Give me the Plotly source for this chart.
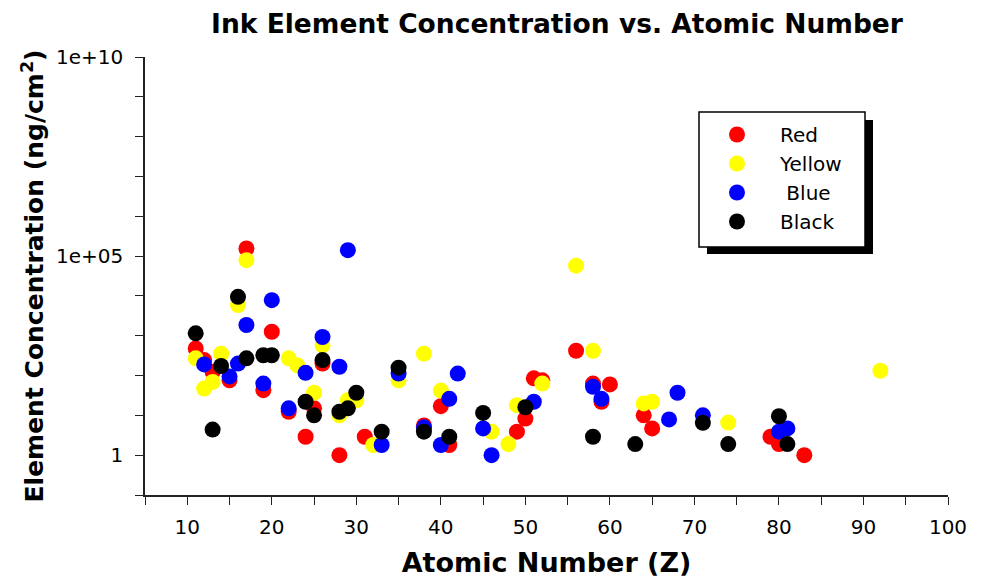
import plotly.graph_objects as go

# ---------------- data ----------------
red_z = [11, 12, 13, 15, 17, 19, 20, 22, 24, 25, 26, 28, 31, 38, 40, 41, 49, 50, 51, 52, 56, 58, 59, 60, 64, 65, 79, 80, 83]
red_c = [480, 245, 123, 76, 155000, 43, 1260, 12.3, 2.9, 15, 200, 1.0, 2.9, 5.6, 17, 1.8, 3.9, 8.3, 85, 76, 420, 63, 22, 60, 10, 4.7, 2.9, 1.9, 1.0]

yellow_z = [11, 12, 13, 14, 16, 17, 22, 23, 25, 26, 28, 29, 30, 32, 35, 38, 40, 46, 48, 49, 52, 56, 58, 64, 65, 74, 92]
yellow_c = [270, 47, 69, 355, 5900, 79000, 270, 182, 37, 575, 10, 24, 24, 1.8, 76, 355, 42, 3.9, 1.9, 18, 63, 57500, 417, 20, 22, 6.6, 132]

blue_z = [12, 15, 16, 17, 19, 20, 22, 24, 26, 28, 29, 33, 35, 38, 40, 41, 42, 45, 46, 51, 58, 59, 67, 68, 71, 80, 81]
blue_c = [190, 95, 200, 1860, 63, 7800, 15, 117, 930, 166, 141000, 1.8, 112, 5.0, 1.8, 26, 112, 4.7, 1.0, 22, 52, 26, 7.9, 37, 10, 3.9, 4.7]

black_z = [11, 13, 14, 16, 17, 19, 20, 24, 25, 26, 28, 29, 30, 33, 35, 38, 41, 45, 50, 58, 63, 71, 74, 80, 81]
black_c = [1150, 4.4, 174, 9500, 270, 324, 324, 22, 10, 245, 12.3, 15, 37, 3.9, 158, 3.9, 2.9, 11.5, 16, 2.9, 1.9, 6.5, 1.9, 9.5, 1.9]

series_names = ["Red", "Yellow", "\u00a0Blue", "Black"]
series_colors = ["#ff0000", "#ffff00", "#0000ff", "#000000"]

x_tick_vals = [10, 20, 30, 40, 50, 60, 70, 80, 90, 100]
x_tick_text = ["10", "20", "30", "40", "50", "60", "70", "80", "90", "100"]
x_minor_vals = [5, 15, 25, 35, 45, 55, 65, 75, 85, 95]
y_tick_vals = [1, 1e5, 1e10]
y_tick_text = ["1", "1e+05", "1e+10"]
y_minor_vals = [0.1, 10, 100, 1e3, 1e4, 1e6, 1e7, 1e8, 1e9]

title_text = "Ink Element Concentration vs. Atomic Number"
x_title = "Atomic Number (Z)"
y_title = "Element Concentration (ng/cm<sup>2</sup>)"

# ---------------- layout geometry ----------------
# the page body adds an 8px margin, so the figure is sized to fit the window
OFF = 8
W, H = 985 - OFF, 582 - OFF
ML, MR, MT, MB = 137, 37, 49, 87
PW, PH = W - ML - MR, H - MT - MB


def px(xp):  # screen pixel -> paper x
    return (xp - OFF - ML) / PW


def py(yp):  # screen pixel -> paper y
    return (H - MB - (yp - OFF)) / PH


FONT = "DejaVu Sans"
AXC = "#222"

fig = go.Figure()
for z, c, name, col in zip([red_z, yellow_z, blue_z, black_z],
                           [red_c, yellow_c, blue_c, black_c],
                           series_names, series_colors):
    fig.add_trace(go.Scatter(
        x=z, y=c, mode="markers", name=name,
        marker=dict(size=16, color=col, line=dict(width=0)),
    ))

# legend box + drop shadow
fig.add_shape(type="rect", xref="paper", yref="paper",
              x0=px(707), x1=px(873), y0=py(254), y1=py(120),
              fillcolor="black", line=dict(width=0), layer="above")
fig.add_shape(type="rect", xref="paper", yref="paper",
              x0=px(699), x1=px(865), y0=py(247), y1=py(112),
              fillcolor="white", line=dict(color="black", width=1.5), layer="above")

fig.update_layout(
    width=W, height=H,
    margin=dict(l=ML, r=MR, t=MT, b=MB, autoexpand=False),
    paper_bgcolor="white", plot_bgcolor="white",
    font=dict(family=FONT, color="black"),
    title=dict(text="<b>" + title_text + "</b>", x=549 / W, xanchor="center",
               y=1 - 16 / H, yanchor="middle",
               font=dict(family=FONT, size=26.5, color="black")),
    showlegend=True,
    legend=dict(x=px(694), y=py(115), xanchor="left", yanchor="top",
                bgcolor="rgba(0,0,0,0)", borderwidth=0,
                itemwidth=76, font=dict(family=FONT, size=20, color="black"),
                tracegroupgap=0),
    xaxis=dict(
        range=[5, 100], showgrid=False, zeroline=False, automargin=False,
        showline=True, linecolor=AXC, linewidth=1.5,
        ticks="outside", ticklen=8, tickwidth=1.2, tickcolor=AXC,
        tickmode="array", tickvals=x_tick_vals, ticktext=x_tick_text,
        ticklabelstandoff=5,
        minor=dict(tickmode="array", tickvals=x_minor_vals, ticks="outside",
                   ticklen=8, tickwidth=1.2, tickcolor=AXC, showgrid=False),
        tickfont=dict(family=FONT, size=20, color="black"),
        title=dict(text="<b>" + x_title + "</b>", standoff=15,
                   font=dict(family=FONT, size=27, color="black")),
    ),
    yaxis=dict(
        type="log", range=[-1, 10], showgrid=False, zeroline=False, automargin=False,
        showline=True, linecolor=AXC, linewidth=1.5,
        ticks="outside", ticklen=8, tickwidth=1.2, tickcolor=AXC,
        tickmode="array", tickvals=y_tick_vals, ticktext=y_tick_text,
        ticklabelstandoff=8,
        minor=dict(tickmode="array", tickvals=y_minor_vals, ticks="outside",
                   ticklen=8, tickwidth=1.2, tickcolor=AXC, showgrid=False),
        tickfont=dict(family=FONT, size=20, color="black"),
        title=dict(text="<b>" + y_title + "</b>", standoff=5,
                   font=dict(family=FONT, size=25, color="black")),
    ),
)

fig.write_html("out.html")
